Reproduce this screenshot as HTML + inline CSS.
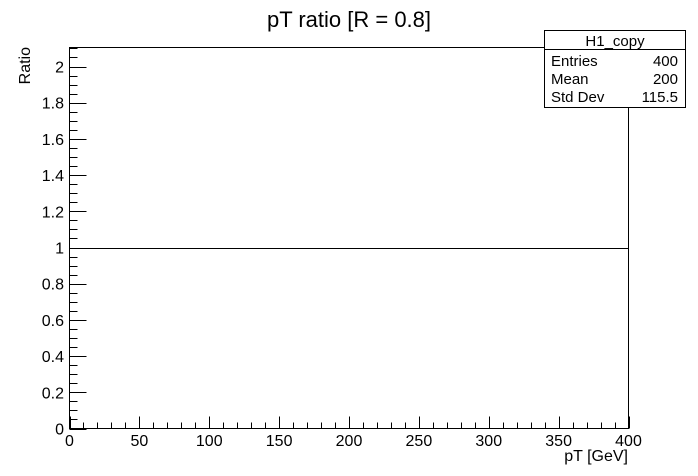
<!DOCTYPE html>
<html><head><meta charset="utf-8"><style>body{margin:0;background:#fff}svg{display:block;font-family:"Liberation Sans",sans-serif}</style></head>
<body>
<svg id="c" width="698" height="476">
<text x="349" y="27" font-size="22" text-anchor="middle">pT ratio [R = 0.8]</text>
<rect x="69.5" y="47.5" width="559" height="381" fill="none" stroke="#000"/>
<g id="ax"></g>
<text x="628" y="461" font-size="16" text-anchor="end">pT [GeV]</text>
<text transform="translate(30,47) rotate(-90)" font-size="16" text-anchor="end">Ratio</text>
<g>
<rect x="544.5" y="30.5" width="141" height="77" fill="#fff" stroke="#000"/>
<line x1="544.5" y1="49.5" x2="685.5" y2="49.5" stroke="#000"/>
<text x="615" y="46" font-size="15" text-anchor="middle">H1_copy</text>
<text x="551" y="66" font-size="15">Entries</text><text x="678" y="66" font-size="15" text-anchor="end">400</text>
<text x="551" y="84" font-size="15">Mean</text><text x="678" y="84" font-size="15" text-anchor="end">200</text>
<text x="551" y="102" font-size="15">Std Dev</text><text x="678" y="102" font-size="15" text-anchor="end">115.5</text>
</g>
</svg>
<script>
const xTicks=[0,50,100,150,200,250,300,350,400];
const yTicks=[0,0.2,0.4,0.6,0.8,1,1.2,1.4,1.6,1.8,2];
const binEdges=[0,400];
const binValues=[1];
const NS='http://www.w3.org/2000/svg';
const X=v=>69.5+v*(559/400), Y=v=>428.5-v*181;
const g=document.getElementById('ax');
function ln(x1,y1,x2,y2,n){const l=document.createElementNS(NS,'line');l.setAttribute('x1',x1);l.setAttribute('y1',y1);l.setAttribute('x2',x2);l.setAttribute('y2',y2);l.setAttribute('stroke','#000');


g.appendChild(l);}
function tx(x,y,s,a,n){const t=document.createElementNS(NS,'text');t.setAttribute('x',x);t.setAttribute('y',y);t.setAttribute('font-size','16');t.setAttribute('text-anchor',a);t.textContent=s;


g.appendChild(t);}
for(let v=0;v<=400;v+=10){const x=Math.round(X(v))+0.5;ln(x,428.5,x,v%50===0?416.5:422.5,'x-tick');}
xTicks.forEach(v=>tx(X(v),446,String(v),'middle','x-tick-label'));
for(let i=0;i<=42;i++){const v=i*0.05;const y=Math.round(Y(v))+0.5;if(y<47)continue;ln(69.5,y,i%4===0?86.5:77.5,y,'y-tick');}
yTicks.forEach(v=>tx(64,Y(v)+6,String(v),'end','y-tick-label'));
binValues.forEach((v,i)=>{const y=Math.round(Y(v))+0.5;ln(X(binEdges[i]),y,X(binEdges[i+1]),y,'histogram-line');});
</script>
</body></html>
